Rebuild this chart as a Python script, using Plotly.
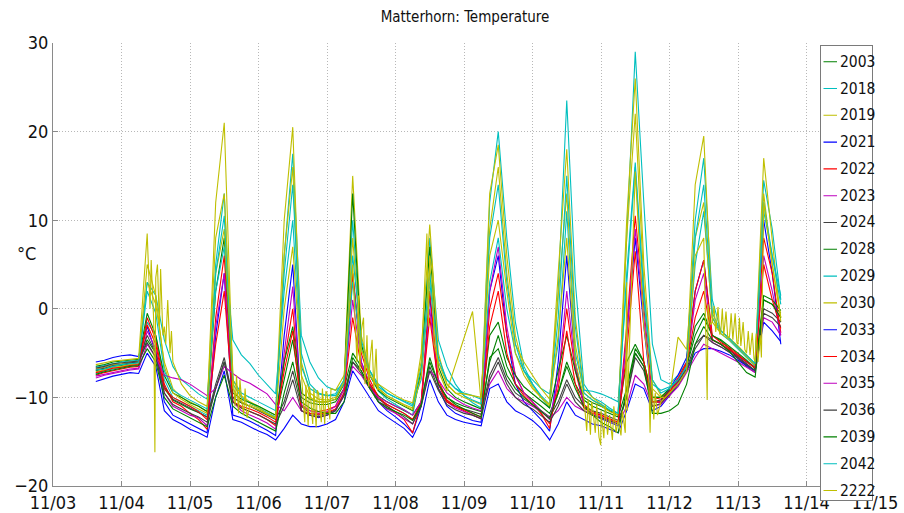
import plotly.graph_objects as go

# ---------------- data ----------------
series_names = ["2003", "2018", "2019", "2021", "2022", "2023", "2024", "2028", "2029",
                "2030", "2033", "2034", "2035", "2036", "2039", "2042", "2222"]
series_colors = ["#008000", "#00BFBF", "#BFBF00", "#0000FF", "#FF0000", "#BF00BF", "#404040",
                 "#008000", "#00BFBF", "#BFBF00", "#0000FF", "#FF0000", "#BF00BF", "#404040",
                 "#008000", "#00BFBF", "#BFBF00"]
tick_labels = ["11/03", "11/04", "11/05", "11/06", "11/07", "11/08", "11/09", "11/10",
               "11/11", "11/12", "11/13", "11/14", "11/15"]
# sample times: hours after 11/03 00:00 (every 3 h, 11/03 15:00 .. 11/13 15:00)
hours = list(range(15, 256, 3))

s2003 = [-7.0,-6.8,-6.5,
 -6.4,-6.2,-6.1,-3.5,-5.0,-9.0,-10.3,-10.8,
 -11.3,-11.7,-12.2,-9.0,-6.0,-10.0,-10.6,-11.0,
 -11.4,-11.9,-12.4,-8.0,-3.5,-10.0,-10.6,-10.8,
 -10.8,-10.5,-9.0,-5.0,-6.5,-8.5,-9.8,-10.5,
 -11.0,-11.5,-12.0,-10.5,-6.0,-8.5,-10.0,-10.6,
 -11.0,-11.3,-11.6,-6.0,-3.0,-6.5,-8.5,-9.5,
 -10.2,-11.0,-11.8,-9.5,-6.0,-8.5,-10.3,-11.0,
 -11.4,-11.8,-12.2,-9.0,-4.5,-6.0,-10.0,-10.0,
 -9.0,-8.0,-6.5,-3.0,-1.0,-3.0,-3.6,-4.5,
 -5.6,-6.5,-7.2,1.0,0.5,-0.5]
s2018 = [-7.3,-7.0,-6.8,
 -6.6,-6.4,-6.3,-1.5,-3.0,-8.0,-10.0,-10.5,
 -11.0,-11.5,-12.0,5.0,13.0,-8.5,-10.0,-10.6,
 -11.2,-11.7,-12.2,6.0,17.5,-3.0,-6.0,-7.8,
 -8.8,-9.2,-8.5,10.0,-4.0,-7.5,-9.3,-10.2,
 -10.8,-11.4,-12.0,-7.0,8.0,-3.5,-6.5,-8.5,
 -9.8,-10.6,-11.2,12.0,20.0,8.0,-1.5,-6.5,
 -8.5,-10.0,-11.2,2.0,23.5,3.0,-8.5,-10.0,
 -10.5,-11.2,-11.8,8.0,29.0,12.0,-4.0,-8.0,
 -8.5,-7.5,-6.0,10.0,17.0,1.0,-2.5,-3.3,
 -4.3,-5.3,-6.2,14.5,9.0,1.0]
s2019 = [-6.8,-6.6,-6.3,
 -6.2,-6.0,-5.9,3.0,0.5,-6.0,-9.0,-10.0,
 -10.5,-11.0,-11.6,12.0,21.0,-8.0,-9.8,-10.5,
 -11.0,-11.5,-12.0,10.0,20.5,-6.0,-9.5,-10.2,
 -10.3,-10.0,-8.0,15.0,-3.0,-7.0,-9.0,-9.8,
 -10.3,-10.8,-11.2,-5.0,9.5,-5.0,-8.5,-9.5,
 -10.0,-10.4,-10.8,13.0,18.5,6.0,-3.0,-7.0,
 -8.8,-10.0,-11.0,4.0,18.0,-1.0,-9.0,-10.0,
 -10.8,-11.5,-12.0,10.0,26.0,5.0,-8.0,-9.8,
 -9.5,-8.5,-6.5,14.0,19.5,-1.0,-2.5,-3.3,
 -4.2,-5.2,-6.3,17.0,8.0,-1.5]
s2021 = [-6.0,-5.8,-5.5,
 -5.3,-5.2,-5.4,-2.0,-5.0,-10.5,-12.0,-12.5,
 -13.0,-13.5,-14.0,-3.0,4.0,-12.0,-12.3,-12.7,
 -13.2,-13.7,-14.3,-3.0,5.0,-11.5,-12.0,-12.3,
 -12.0,-11.5,-9.5,4.0,-6.0,-8.5,-10.5,-11.5,
 -12.2,-13.0,-14.0,-11.0,1.5,-9.0,-11.0,-11.8,
 -12.2,-12.6,-12.8,2.0,6.0,-3.0,-8.5,-10.5,
 -11.5,-12.5,-13.8,-6.0,6.0,-6.0,-11.0,-12.0,
 -12.4,-12.8,-13.2,-3.0,8.0,-2.0,-10.5,-10.5,
 -9.0,-7.5,-5.5,2.0,5.5,-3.5,-4.0,-4.6,
 -5.3,-6.0,-6.6,10.0,4.0,-4.0]
s2022 = [-7.5,-7.2,-7.0,
 -6.8,-6.6,-6.5,-1.0,-3.5,-8.5,-10.5,-11.0,
 -11.8,-12.5,-13.6,-1.0,6.0,-10.5,-11.2,-11.6,
 -12.0,-12.5,-13.2,-6.0,0.0,-11.0,-11.5,-11.6,
 -11.4,-11.0,-9.0,4.0,-5.0,-8.0,-10.0,-11.0,
 -11.8,-12.5,-14.0,-10.5,2.0,-8.0,-10.3,-11.0,
 -11.5,-12.0,-12.4,0.0,4.0,-3.0,-7.5,-9.5,
 -10.5,-11.8,-13.5,-8.0,0.0,-7.0,-10.8,-11.6,
 -12.0,-12.5,-12.8,-2.0,10.5,0.0,-10.0,-10.2,
 -9.2,-7.8,-6.0,2.0,5.5,-3.0,-3.8,-4.4,
 -5.2,-5.9,-6.6,8.0,4.0,-2.7]
s2023 = [-7.6,-7.4,-7.2,
 -7.0,-6.8,-6.7,-2.5,-4.5,-9.5,-11.0,-11.5,
 -12.0,-12.3,-13.2,-2.0,4.0,-10.5,-11.5,-12.0,
 -12.4,-12.9,-13.6,-5.0,2.5,-10.8,-11.5,-11.8,
 -11.6,-11.0,-9.0,1.0,-6.0,-8.5,-10.5,-11.3,
 -11.8,-12.4,-13.0,-10.5,0.0,-8.5,-10.5,-11.2,
 -11.6,-12.0,-12.4,2.0,7.0,-2.0,-7.5,-9.5,
 -10.5,-11.5,-12.5,-8.0,2.0,-6.5,-11.0,-11.8,
 -12.2,-12.6,-13.0,-3.0,9.0,-1.0,-10.5,-10.6,
 -9.6,-8.3,-6.5,1.0,4.0,-3.8,-4.3,-4.9,
 -5.6,-6.3,-7.0,6.0,2.0,-3.0]
s2024 = [-6.9,-6.7,-6.4,
 -6.3,-6.1,-6.0,-3.0,-5.0,-8.8,-10.2,-10.7,
 -11.2,-11.7,-12.2,-8.5,-5.5,-10.0,-10.6,-11.0,
 -11.5,-12.0,-12.5,-10.5,-7.0,-11.0,-11.8,-12.0,
 -11.8,-11.4,-9.5,-6.0,-7.0,-8.8,-10.2,-10.8,
 -11.3,-11.8,-12.5,-11.0,-6.5,-9.0,-10.5,-11.0,
 -11.3,-11.6,-11.9,-7.5,-5.5,-8.0,-9.5,-10.2,
 -10.8,-11.5,-12.2,-10.5,-8.0,-10.0,-11.0,-11.5,
 -11.8,-12.2,-12.6,-10.0,-5.0,-6.5,-10.5,-10.3,
 -9.3,-8.2,-6.8,-4.0,-3.0,-3.5,-4.0,-4.7,
 -5.4,-6.2,-7.0,0.0,-0.5,-1.5]
s2028 = [-6.5,-6.3,-6.0,
 -5.9,-5.8,-5.7,-0.5,-3.0,-7.5,-9.5,-10.0,
 -10.6,-11.0,-11.6,2.0,8.0,-9.5,-10.2,-10.6,
 -11.0,-11.5,-12.0,-6.0,-2.0,-9.5,-10.2,-10.5,
 -10.5,-10.2,-8.5,13.0,-4.0,-7.5,-9.2,-10.0,
 -10.5,-11.0,-11.5,-7.0,7.0,-6.5,-9.0,-10.0,
 -10.5,-10.9,-11.3,-3.0,-1.5,-5.5,-7.5,-8.8,
 -9.6,-10.4,-11.2,-7.0,-3.0,-7.0,-10.0,-10.6,
 -11.0,-11.5,-12.0,-6.0,-4.0,-6.0,-10.0,-10.0,
 -9.0,-8.0,-6.5,-2.0,-0.5,-3.0,-3.5,-4.2,
 -5.0,-5.8,-6.8,1.5,1.0,-0.2]
s2029 = [-6.6,-6.4,-6.2,
 -6.0,-5.9,-5.8,3.0,1.5,-3.5,-6.5,-8.0,
 -8.8,-9.6,-10.2,2.0,7.0,-3.5,-5.2,-6.2,
 -7.5,-8.6,-9.6,2.0,10.0,-6.5,-9.0,-9.6,
 -9.8,-9.8,-8.5,3.0,-4.5,-7.0,-8.8,-9.5,
 -10.0,-10.4,-10.8,-8.0,3.0,-6.0,-8.0,-9.0,
 -9.5,-9.8,-10.2,3.0,8.0,0.0,-5.0,-7.0,
 -8.0,-9.0,-9.6,-4.0,11.0,-5.0,-9.2,-9.3,
 -9.6,-10.0,-10.5,3.0,16.0,1.0,-8.5,-9.2,
 -8.8,-8.0,-6.5,5.0,11.0,-1.0,-2.8,-3.6,
 -4.5,-5.5,-6.5,11.0,6.0,0.5]
s2030 = [-7.1,-6.9,-6.6,
 -6.5,-6.3,-6.2,5.0,1.5,-6.5,-9.5,-10.2,
 -10.8,-11.3,-11.8,4.0,9.0,-9.0,-10.5,-11.0,
 -11.4,-11.9,-12.4,6.0,16.0,-7.5,-10.0,-10.5,
 -10.5,-10.2,-8.2,8.0,-4.5,-7.5,-9.0,-9.8,
 -10.4,-10.9,-11.4,-7.5,5.0,-7.0,-9.3,None,
 None,-0.3,-10.5,9.0,16.0,4.0,-4.0,-6.0,
 -7.5,-9.0,-10.2,1.0,13.0,-4.0,-9.5,-10.3,
 -11.0,-11.6,-12.0,8.0,22.0,3.0,-9.0,-10.0,
 -10.0,-3.2,-4.6,8.0,12.0,-1.5,-2.8,-3.5,
 -4.4,-5.4,-6.4,13.0,5.0,-1.0]
s2033 = [-8.2,-7.9,-7.6,
 -7.4,-7.2,-7.3,-5.0,-6.5,-11.5,-12.5,-13.0,
 -13.6,-14.0,-14.5,-10.0,-7.0,-12.5,-12.8,-13.3,
 -13.8,-14.2,-14.8,-13.5,-12.0,-13.0,-13.3,-13.3,
 -13.0,-12.5,-10.5,-7.0,-8.5,-10.0,-11.5,-12.2,
 -12.8,-13.5,-14.5,-12.5,-8.0,-10.5,-12.0,-12.5,
 -12.8,-13.0,-13.2,-9.0,-8.5,-10.5,-11.5,-12.0,
 -12.6,-13.5,-14.8,-13.0,-10.5,-12.0,-12.5,-13.0,
 -13.2,-13.6,-14.0,-11.5,-8.5,-9.0,-11.5,-11.0,
 -9.8,-8.6,-7.0,-5.0,-4.5,-4.5,-4.8,-5.2,
 -5.8,-6.4,-7.0,-1.5,-2.5,-3.7]
s2034 = [-7.2,-7.0,-6.7,
 -6.6,-6.4,-6.3,-1.8,-4.0,-9.0,-10.0,-10.5,
 -11.0,-11.6,-12.5,-4.0,2.0,-10.5,-11.0,-11.3,
 -11.7,-12.2,-12.8,-7.0,-2.5,-11.5,-11.8,-11.9,
 -11.7,-11.3,-9.5,-1.0,-6.5,-8.5,-10.0,-10.8,
 -11.3,-11.8,-12.5,-10.5,-1.0,-8.5,-10.5,-11.0,
 -11.4,-11.8,-12.2,-2.0,2.0,-5.0,-8.5,-9.8,
 -10.8,-11.8,-13.0,-9.0,-2.5,-8.5,-11.2,-11.8,
 -12.0,-12.4,-12.8,-5.0,6.5,-6.0,-10.5,-10.5,
 -9.4,-8.0,-6.2,-1.0,2.0,-3.5,-4.0,-4.6,
 -5.3,-6.0,-6.7,5.0,1.0,-2.2]
s2035 = [-7.8,-7.5,-7.3,
 -7.1,-6.9,-6.8,-4.0,-5.5,-7.5,-7.8,-8.0,
 -8.5,-9.2,-9.8,-9.0,-6.5,-7.3,-8.0,-8.4,
 -9.0,-9.6,-10.8,-11.5,-10.0,-11.5,-12.0,-12.2,
 -12.0,-11.5,-9.8,-6.5,-7.5,-9.0,-10.0,-10.5,
 -11.0,-11.4,-12.0,-10.5,-7.0,-8.0,-9.5,-10.2,
 -10.8,-11.2,-11.5,-8.5,-7.0,-9.0,-10.0,-10.5,
 -11.0,-11.6,-12.3,-11.5,-10.0,-11.0,-11.5,-12.0,
 -12.3,-12.7,-13.0,-11.0,-7.5,-8.5,-11.0,-10.8,
 -9.8,-8.8,-7.2,-5.5,-4.0,-4.5,-5.0,-5.5,
 -6.0,-6.6,-7.2,-1.0,-1.5,-3.0]
s2036 = [-6.7,-6.5,-6.2,
 -6.1,-6.0,-5.9,-3.8,-5.5,-9.5,-10.8,-11.3,
 -11.8,-12.2,-12.8,-9.0,-6.0,-10.5,-11.2,-11.6,
 -12.0,-12.5,-13.0,-11.0,-8.0,-11.5,-12.0,-12.2,
 -12.0,-11.5,-9.8,-6.0,-7.3,-9.0,-10.5,-11.0,
 -11.6,-12.2,-13.0,-11.0,-7.0,-9.2,-10.8,-11.4,
 -11.8,-12.0,-12.4,-8.0,-6.0,-8.5,-10.0,-10.8,
 -11.3,-12.0,-12.8,-11.0,-8.5,-10.5,-11.5,-12.0,
 -12.3,-12.6,-13.0,-10.0,-5.5,-7.0,-11.0,-10.7,
 -9.6,-8.6,-7.0,-4.5,-3.0,-3.8,-4.3,-4.9,
 -5.6,-6.3,-7.0,-0.5,-1.0,-2.0]
s2039 = [-7.4,-7.1,-6.9,
 -6.7,-6.5,-6.4,-4.5,-6.0,-10.0,-11.3,-11.8,
 -12.3,-12.8,-13.3,-10.0,-7.5,-11.0,-11.8,-12.3,
 -12.8,-13.3,-13.8,-9.5,-6.0,-10.5,-11.2,-11.6,
 -11.8,-11.8,-10.5,-5.5,-7.0,-9.0,-10.5,-11.2,
 -11.6,-12.0,-12.6,-10.8,-5.5,-8.5,-10.0,-10.8,
 -11.3,-11.8,-12.2,-5.5,-4.5,-7.5,-9.0,-10.0,
 -10.8,-11.6,-12.4,-9.5,-6.5,-9.0,-11.0,-12.0,
 -12.8,-13.3,-14.0,-9.0,-5.0,-6.5,-11.8,-11.8,
 -11.5,-10.8,-8.5,-4.0,-2.0,-3.5,-4.0,-4.8,
 -6.0,-7.2,-7.7,1.0,0.5,-1.0]
s2042 = [-6.9,-6.8,-6.5,
 -6.3,-6.2,-6.1,2.0,-0.5,-7.0,-9.2,-9.8,
 -10.3,-10.8,-11.3,4.0,10.5,-8.0,-9.5,-10.0,
 -10.5,-11.0,-11.5,4.0,14.0,-5.0,-8.5,-9.5,
 -9.8,-9.6,-8.0,6.0,-3.5,-7.0,-8.5,-9.5,
 -10.0,-10.5,-11.0,-6.5,4.0,-5.5,-8.0,-9.0,
 -9.8,-10.3,-10.7,8.0,14.0,3.0,-4.0,-7.0,
 -8.5,-9.8,-10.8,-1.0,15.0,-2.0,-9.5,-10.3,
 -10.8,-11.4,-11.8,4.0,16.5,2.0,-8.0,-9.5,
 -9.0,-8.0,-6.5,8.0,14.0,-0.5,-2.5,-3.4,
 -4.3,-5.3,-6.2,12.0,6.0,1.5]
s2222 = [-6.3,-6.1,-5.9,
 -5.8,-5.7,-5.6,8.5,3.5,-2.0,-6.0,-8.5,
 -9.8,-10.5,-11.0,8.0,13.0,-7.0,-10.0,-10.8,
 -11.2,-11.8,-12.3,0.0,7.0,-8.0,-9.0,-9.5,
 -9.5,-9.2,-7.5,5.0,-2.5,-6.0,-8.5,-9.2,
 -9.8,-10.3,-10.6,-6.0,6.0,-6.0,-8.5,-9.5,
 -9.6,-9.8,-10.0,6.0,10.0,2.0,-5.0,-7.5,
 -9.0,-10.0,-10.8,-3.0,8.0,-6.0,-10.0,-11.0,
 -11.5,-12.0,-12.5,3.0,15.5,-2.0,-9.0,-10.5,
 -9.5,-8.5,-7.0,6.0,8.0,-1.5,-2.5,-3.2,
 -4.0,-5.0,-6.0,12.0,5.0,-1.0]
# extra short readings (spikes) of series 2222, hours after 11/03 00:00
spike2222_hours = [34.0, 34.4, 35.3, 35.7, 35.9, 36.6, 37.3, 37.7, 38.5, 39.5, 40.2, 41.0, 41.5,
                   63.8, 64.3, 65.0, 65.5, 66.8, 67.3, 68.0,
                   88.2, 88.6, 89.4, 89.8, 91.0, 91.4, 92.2, 92.6, 94.0, 94.4, 95.2, 95.6, 97.0, 97.4,
                   106.5, 107.0, 107.5, 108.8, 109.3, 110.0, 110.6, 111.8, 112.4, 113.2, 113.7,
                   131.0, 131.5, 133.0, 133.5,
                   187.0, 187.5, 188.3, 188.7, 190.0, 190.5, 191.3, 191.9, 193.0, 193.5, 194.3,
                   196.0, 196.5, 197.3, 199.0, 199.5, 200.5, 201.2,
                   208.6, 209.2, 209.6, 210.5, 211.0, 211.8,
                   229.2, 229.5, 230.3, 231.6, 232.2, 233.0, 233.6, 234.5, 235.0, 235.8, 236.4,
                   237.6, 238.2, 239.0, 239.6, 240.5, 241.0, 241.8, 242.4, 243.6, 244.2, 245.0,
                   245.6, 246.4, 247.0, 247.8, 248.2]
spike2222_values = [0.0, 5.5, -1.5, -16.2, -1.0, 5.0, -2.0, 4.5, -3.0, -4.0, 1.0, -5.0, -2.5,
                    -11.0, -7.5, -11.8, -8.0, -12.0, -9.0, -12.3,
                    -12.8, -8.6, -13.2, -8.8, -13.0, -9.0, -13.4, -9.2, -12.8, -9.0, -13.0, -9.3, -12.5, -9.0,
                    -6.0, 1.5, -7.0, -1.0, -8.5, -3.0, -8.8, -3.5, -9.0, -4.5, -9.2,
                    8.5, -2.0, 4.0, -4.0,
                    -13.8, -10.2, -14.2, -10.5, -14.0, -10.8, -14.5, -15.4, -14.6, -10.8, -14.2,
                    -14.8, -11.0, -14.0, -14.3, -11.5, -14.0, -11.5,
                    -6.0, -14.0, -8.0, -12.5, -9.5, -12.0,
                    -10.3, 0.5, -1.8, 0.3, -2.6, 0.2, -2.9, 0.0, -3.0, -0.3, -3.2,
                    -0.5, -3.5, -0.5, -3.8, -1.0, -4.2, -1.5, -4.6, -2.5, -5.2, -2.7,
                    -5.6, -2.8, -6.0, -3.0, -5.5]

series_values = [s2003, s2018, s2019, s2021, s2022, s2023, s2024, s2028, s2029,
                 s2030, s2033, s2034, s2035, s2036, s2039, s2042, s2222]

# ---------------- figure ----------------
W, H = 904, 513
ML, MR, MT, MB = 53, 29, 43, 27
pw, ph = W - ML - MR, H - MT - MB
FONT = "Liberation Sans Narrow, DejaVu Sans Condensed, Liberation Sans, Arial, sans-serif"

fig = go.Figure()
for name, col, vals in zip(series_names, series_colors, series_values):
    t = list(hours)
    v = list(vals)
    if name == "2222":
        pts = sorted(list(zip(t, v)) + list(zip(spike2222_hours, spike2222_values)))
        t = [p[0] for p in pts]
        v = [p[1] for p in pts]
    fig.add_trace(go.Scatter(
        x=[h / 24.0 for h in t], y=v, mode="lines", name=name,
        line=dict(color=col, width=1.1), connectgaps=True, showlegend=False,
        hoverinfo="skip"))

grid_col = "#b8b8b8"
axis_common = dict(showgrid=True, gridcolor=grid_col, griddash="1px,2px", gridwidth=1,
                   showline=True, linecolor="#8a8a8a", linewidth=1, zeroline=False,
                   ticks="inside", ticklen=5, tickcolor="#8a8a8a", automargin=False,
                   tickfont=dict(family=FONT, size=18, color="#111"))
fig.update_xaxes(range=[0, 12], tickvals=list(range(13)), ticktext=tick_labels, **axis_common)
fig.update_yaxes(range=[-20, 30], tickvals=[-20, -10, 0, 10, 20, 30], **axis_common)

# custom legend (MATLAB style box), drawn in the annotation layer so it covers tick labels
def px_x(x):
    return (x - ML) / pw

def px_y(y):
    return (H - MB - y) / ph

box_l, box_r, box_t, box_b = 819.5, 872.5, 45, 501
annotations = [dict(xref="paper", yref="paper", x=px_x((box_l + box_r) / 2),
                    y=px_y((box_t + box_b) / 2), xanchor="center", yanchor="middle",
                    text=" ", showarrow=False, width=box_r - box_l - 2,
                    height=box_b - box_t - 2, bgcolor="white", bordercolor="#7a7a7a",
                    borderwidth=1, borderpad=0)]
for i, (name, col) in enumerate(zip(series_names, series_colors)):
    yc = 61.7 + 26.8 * i
    annotations.append(dict(xref="paper", yref="paper", axref="pixel", ayref="pixel",
                            x=px_x(837), y=px_y(yc), ax=-15, ay=0,
                            text="", showarrow=True, arrowhead=0, arrowwidth=1.1,
                            arrowcolor=col, standoff=0, startstandoff=0))
    annotations.append(dict(xref="paper", yref="paper", x=px_x(838), y=px_y(yc),
                            xanchor="left", yanchor="middle", text=name, showarrow=False,
                            font=dict(family=FONT, size=15.5, color="#111")))
annotations.append(dict(xref="paper", yref="paper", x=px_x(27), y=px_y(253),
                        xanchor="center", yanchor="middle", text="°C", showarrow=False,
                        font=dict(family=FONT, size=18, color="#111")))

fig.update_layout(
    width=W, height=H, margin=dict(l=ML, r=MR, t=MT, b=MB),
    paper_bgcolor="white", plot_bgcolor="white", showlegend=False,
    title=dict(text="Matterhorn: Temperature", x=px_x(465), xref="paper", xanchor="center",
               y=1 - 17 / H, yref="container", yanchor="middle",
               font=dict(family=FONT, size=15, color="#111")),
    annotations=annotations)

fig.write_html("out.html")
